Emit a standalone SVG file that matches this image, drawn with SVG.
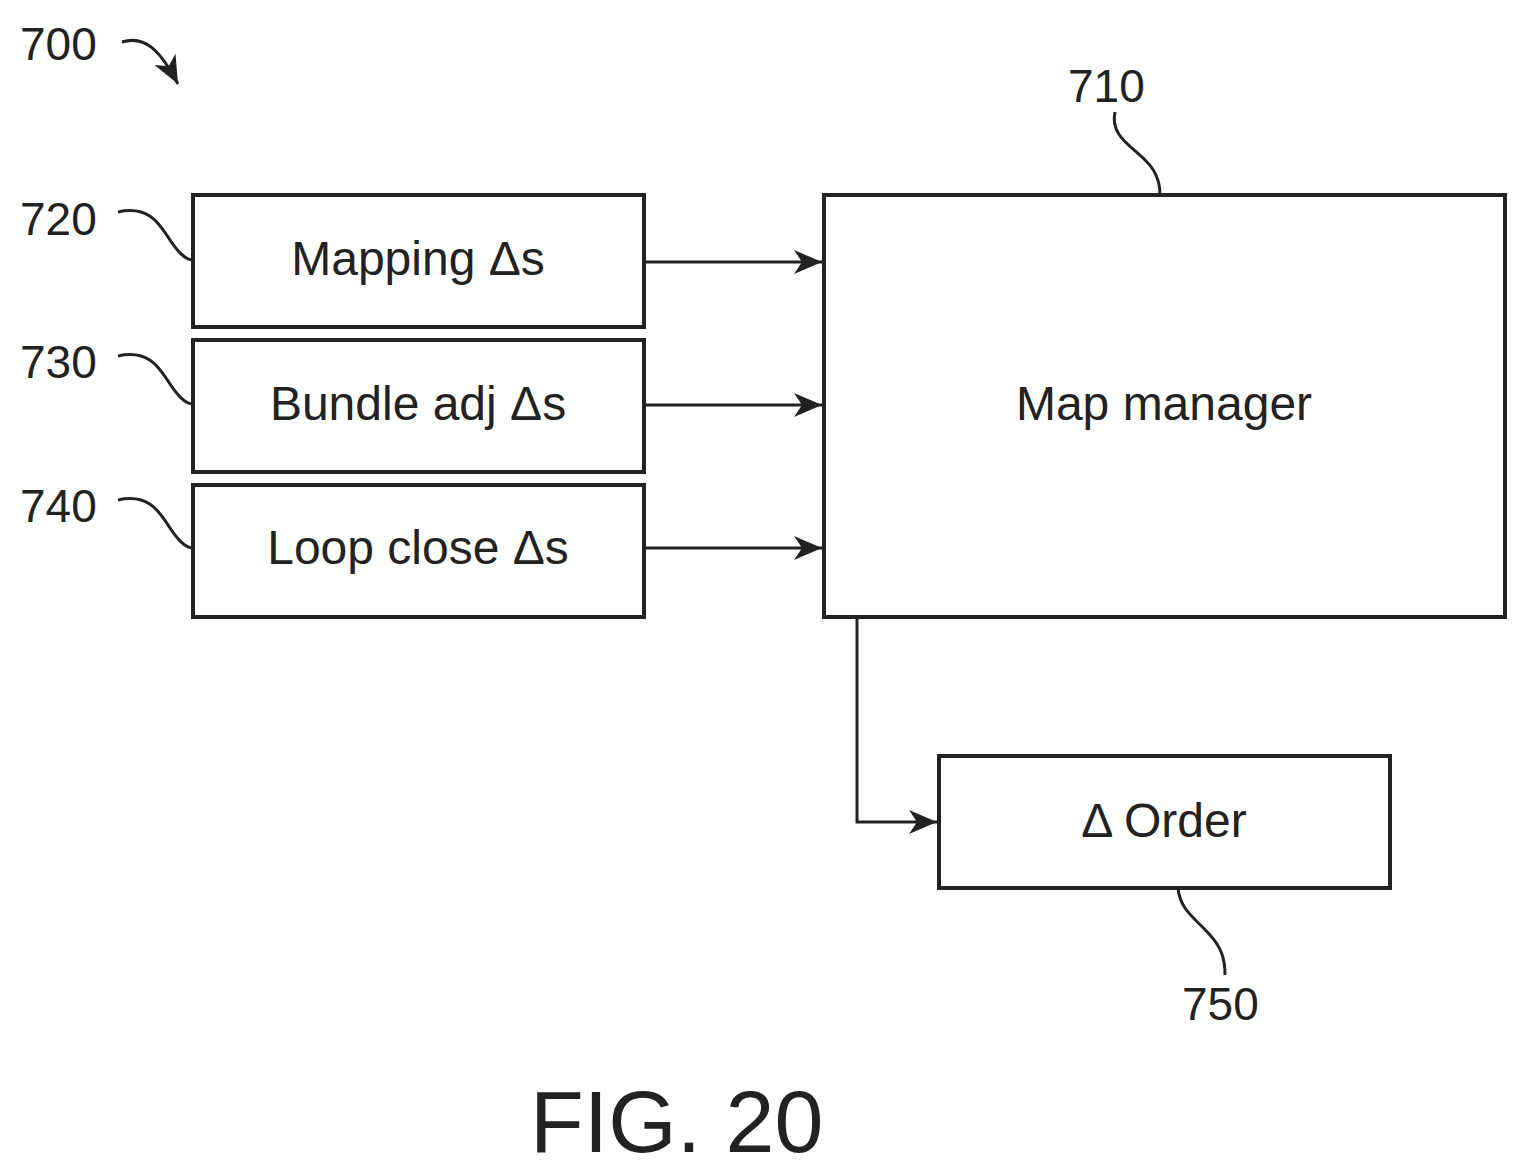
<svg xmlns="http://www.w3.org/2000/svg" width="1527" height="1174" viewBox="0 0 1527 1174">
<style>
.b{fill:#fff;stroke:#222;stroke-width:4}
.l{fill:none;stroke:#222;stroke-width:3}
text{font-family:"Liberation Sans",Arial,sans-serif;fill:#222}
.t{font-size:48px;text-anchor:middle}
.n{font-size:46px}
</style>
<defs><marker id="a" markerWidth="10" markerHeight="10" refX="9" refY="5" orient="auto" markerUnits="userSpaceOnUse" viewBox="0 0 10 10"><path d="M0,0 L10,5 L0,10 L3,5 Z" fill="#222" transform="scale(1)"/></marker>
<marker id="A" markerWidth="30" markerHeight="24" refX="28" refY="12" orient="auto" markerUnits="userSpaceOnUse"><path d="M0,0 L28,12 L0,24 L8,12 Z" fill="#222"/></marker></defs>
<g id="n720"><rect class="b" x="193" y="195" width="451" height="132"/><text class="t" x="418" y="275">Mapping Δs</text></g>
<g id="n730"><rect class="b" x="193" y="340" width="451" height="132"/><text class="t" x="418" y="420">Bundle adj Δs</text></g>
<g id="n740"><rect class="b" x="193" y="485" width="451" height="132"/><text class="t" x="418" y="564">Loop close Δs</text></g>
<g id="n710"><rect class="b" x="824" y="195" width="681" height="422"/><text class="t" x="1164" y="420">Map manager</text></g>
<g id="n750"><rect class="b" x="939" y="756" width="451" height="132"/><text class="t" x="1164" y="837">Δ Order</text></g>
<g id="connectors">
<path class="l" d="M644,262 H822" marker-end="url(#A)"/>
<path class="l" d="M644,405 H822" marker-end="url(#A)"/>
<path class="l" d="M644,548 H822" marker-end="url(#A)"/>
<path class="l" d="M857,617 V822 H937" marker-end="url(#A)"/>
<path class="l" d="M118,212 C150,205 160,225 170,240 C178,252 185,260 193,260"/>
<path class="l" d="M118,356 C150,349 160,369 170,384 C178,396 185,404 193,404"/>
<path class="l" d="M118,500 C150,493 160,513 170,528 C178,540 185,548 193,548"/>
<path class="l" d="M1115,112 C1110,135 1130,145 1145,160 C1158,172 1160,185 1160,195"/>
<path class="l" d="M1178,888 C1180,910 1195,918 1210,935 C1222,948 1225,960 1225,975"/>
<path class="l" d="M122,42 C145,35 160,50 178,84" marker-end="url(#A)"/>
</g>
<g id="labels">
<text class="n" x="20" y="60">700</text>
<text class="n" x="1068" y="102">710</text>
<text class="n" x="20" y="235">720</text>
<text class="n" x="20" y="378">730</text>
<text class="n" x="20" y="522">740</text>
<text class="n" x="1182" y="1020">750</text>
<text x="530" y="1152" style="font-size:88px">FIG. 20</text>
</g>
</svg>
